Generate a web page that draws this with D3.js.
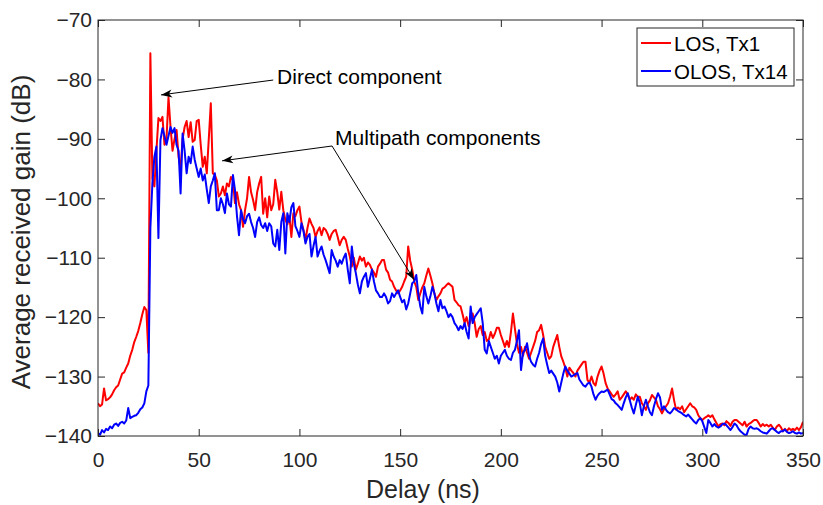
<!DOCTYPE html>
<html><head><meta charset="utf-8">
<script src="https://cdn.jsdelivr.net/npm/d3@7"></script>
<style>
body{margin:0;background:#fff}
svg{display:block}
text{font-family:"Liberation Sans",Arial,Helvetica,sans-serif;fill:#262626}
</style>
</head><body>
<svg id="chart" width="823" height="505"></svg>
<script>
// ---- data ----
const seriesNames = ["LOS, Tx1", "OLOS, Tx14"];
const seriesColors = ["#ff0000", "#0000ff"];
const xTicks = [0, 50, 100, 150, 200, 250, 300, 350];
const yTicks = [-140, -130, -120, -110, -100, -90, -80, -70];
const xLabel = "Delay (ns)";
const yLabel = "Average received gain (dB)";
const delayNs = d3.range(0, 351, 1);

const losGain = [
-134.5,-135.0,-134.7,-132.0,-134.0,-133.8,-133.5,-133.0,-132.3,-131.8,
-131.5,-130.5,-129.5,-129.3,-128.5,-127.8,-126.5,-125.5,-124.2,-123.3,
-122.3,-121.0,-119.5,-118.3,-118.8,-126.0,-75.6,-96.6,-98.0,-92.0,
-86.5,-87.0,-86.3,-91.0,-90.0,-83.0,-88.0,-92.0,-90.0,-88.5,
-93.0,-95.0,-90.0,-88.0,-87.0,-89.7,-87.2,-90.5,-90.2,-87.0,
-86.8,-91.0,-94.7,-93.0,-95.8,-90.0,-84.0,-95.8,-96.0,-97.0,
-99.7,-99.2,-98.0,-99.5,-97.5,-98.0,-96.4,-97.0,-100.8,-99.0,
-101.0,-102.0,-104.8,-102.0,-100.0,-96.4,-99.0,-100.3,-102.0,-99.0,
-97.5,-96.4,-102.6,-100.0,-103.2,-99.7,-102.0,-101.0,-96.9,-99.0,
-101.9,-98.9,-102.0,-103.6,-104.4,-103.0,-106.5,-102.5,-103.0,-102.0,
-101.4,-104.0,-105.3,-107.0,-105.0,-103.4,-104.3,-105.0,-106.5,-105.5,
-104.9,-106.2,-105.0,-105.3,-106.0,-107.0,-106.0,-105.5,-105.3,-106.5,
-107.9,-107.0,-106.5,-107.0,-108.5,-109.8,-111.5,-110.0,-112.0,-111.0,
-109.8,-110.5,-110.0,-111.5,-110.8,-111.2,-112.0,-112.5,-113.2,-111.5,
-111.0,-110.4,-110.4,-112.0,-112.5,-113.7,-114.0,-114.9,-115.5,-116.0,
-115.5,-114.9,-114.0,-113.2,-108.1,-110.5,-112.0,-114.0,-114.9,-117.1,
-116.0,-115.0,-114.3,-113.0,-111.8,-113.0,-114.3,-116.0,-117.1,-116.5,
-116.0,-115.2,-115.0,-114.6,-114.3,-114.6,-114.9,-117.1,-117.5,-118.0,
-118.2,-119.5,-121.0,-120.0,-121.5,-120.5,-119.4,-121.0,-123.3,-122.0,
-121.5,-123.0,-122.5,-124.0,-123.8,-122.5,-123.5,-122.8,-121.8,-121.8,
-123.0,-124.0,-125.0,-124.0,-125.0,-122.5,-119.4,-122.0,-124.5,-126.0,
-125.0,-126.5,-125.0,-126.0,-127.0,-126.0,-125.0,-124.0,-122.5,-122.2,
-121.3,-123.0,-125.0,-126.0,-127.0,-126.6,-125.0,-124.0,-123.0,-125.0,
-126.6,-127.5,-128.5,-130.0,-128.5,-129.0,-129.4,-130.0,-129.0,-128.5,
-128.0,-127.5,-127.5,-130.6,-131.0,-130.0,-131.1,-131.5,-130.0,-129.0,
-128.3,-129.5,-131.1,-132.0,-132.5,-133.0,-133.4,-133.0,-132.5,-133.9,
-133.5,-133.0,-132.5,-133.0,-133.9,-133.5,-133.9,-133.0,-133.4,-133.4,
-134.5,-135.0,-135.6,-134.5,-134.0,-133.1,-133.5,-133.9,-135.0,-135.5,
-136.2,-135.5,-135.0,-134.5,-133.4,-132.0,-134.0,-135.6,-135.2,-135.5,
-135.0,-136.0,-135.5,-135.0,-134.5,-135.0,-135.2,-135.6,-136.5,-137.0,
-137.3,-137.0,-136.8,-136.5,-136.8,-136.5,-137.2,-137.8,-138.4,-138.0,
-137.9,-138.2,-137.5,-137.8,-138.3,-137.6,-137.3,-137.3,-137.6,-137.9,
-138.2,-137.6,-138.4,-138.0,-137.8,-137.5,-137.3,-137.3,-137.8,-138.4,
-138.0,-138.3,-138.1,-138.4,-138.1,-138.6,-139.0,-138.4,-138.1,-138.5,
-139.2,-138.8,-139.2,-138.7,-139.0,-138.8,-139.0,-138.6,-139.0,-138.5,
-137.6
];

const olosGain = [
-139.5,-139.8,-139.0,-139.4,-138.8,-139.0,-138.4,-138.7,-138.1,-137.9,
-138.3,-137.8,-137.6,-137.9,-137.4,-135.3,-137.0,-136.8,-136.6,-136.5,
-136.1,-135.5,-135.2,-134.5,-132.5,-131.5,-105.0,-97.5,-93.0,-91.3,
-106.7,-90.2,-88.2,-89.5,-91.0,-89.5,-88.0,-89.0,-88.2,-91.0,
-92.0,-99.2,-89.1,-92.0,-95.8,-93.0,-94.1,-91.3,-93.5,-95.0,
-96.4,-95.0,-97.0,-96.0,-98.5,-100.8,-98.0,-97.0,-95.8,-102.0,
-102.0,-100.0,-101.0,-102.5,-99.2,-101.0,-101.4,-96.1,-98.6,-103.0,
-106.2,-102.0,-103.5,-104.2,-103.0,-102.6,-104.0,-105.0,-106.5,-104.0,
-103.2,-104.5,-105.0,-104.2,-105.5,-104.2,-104.7,-107.6,-108.1,-105.3,
-108.7,-104.0,-102.5,-109.3,-102.5,-104.0,-101.5,-100.8,-104.7,-105.5,
-106.5,-104.2,-105.5,-107.6,-106.5,-106.0,-109.8,-108.0,-106.5,-109.8,
-108.8,-108.1,-109.5,-110.4,-111.5,-112.6,-108.7,-109.8,-110.5,-111.5,
-110.4,-111.0,-110.0,-109.3,-112.0,-114.3,-108.1,-111.0,-112.6,-114.5,
-116.0,-114.0,-113.2,-112.6,-114.9,-113.5,-112.0,-114.0,-115.5,-116.0,
-116.6,-116.6,-116.0,-116.6,-117.7,-117.3,-116.0,-116.6,-116.0,-115.5,
-116.6,-117.5,-117.1,-118.7,-117.7,-116.0,-114.3,-114.0,-112.9,-116.0,
-118.2,-119.4,-114.9,-116.5,-117.7,-116.5,-114.9,-116.0,-117.7,-119.0,
-117.1,-118.5,-118.2,-119.0,-120.0,-119.5,-120.0,-121.0,-121.5,-122.2,
-121.5,-122.0,-121.0,-122.5,-123.6,-118.2,-121.0,-120.0,-119.5,-119.0,
-118.5,-121.0,-125.5,-126.1,-124.0,-125.0,-126.0,-127.0,-126.5,-127.8,
-126.5,-126.0,-125.5,-126.5,-127.0,-127.2,-126.0,-125.5,-124.0,-122.2,
-128.9,-126.0,-125.5,-124.4,-126.5,-127.5,-128.0,-128.3,-127.0,-126.0,
-124.5,-123.6,-126.5,-128.0,-129.4,-129.0,-129.5,-130.0,-131.0,-132.5,
-131.0,-129.5,-128.3,-129.0,-129.5,-130.0,-129.8,-129.6,-129.4,-130.5,
-131.0,-131.5,-131.7,-131.2,-131.0,-131.7,-133.0,-133.9,-133.2,-132.8,
-132.5,-132.6,-132.4,-132.2,-133.0,-133.8,-134.0,-134.5,-134.8,-135.2,
-135.6,-134.5,-133.5,-132.8,-134.0,-135.2,-136.2,-134.8,-133.4,-134.5,
-136.5,-135.0,-133.9,-135.0,-136.0,-136.5,-135.0,-133.8,-132.8,-133.5,
-135.6,-135.0,-135.6,-136.0,-136.2,-135.8,-135.3,-135.5,-135.8,-136.0,
-136.2,-136.5,-136.7,-136.4,-136.8,-137.2,-137.6,-137.9,-137.3,-137.0,
-137.5,-138.5,-139.5,-137.3,-137.8,-138.4,-138.0,-138.4,-138.6,-138.4,
-138.0,-137.9,-138.2,-138.6,-139.0,-138.5,-137.9,-138.2,-138.8,-139.2,
-139.5,-139.8,-139.8,-138.8,-138.4,-138.7,-138.8,-138.7,-138.9,-139.2,
-139.4,-139.5,-139.6,-139.2,-138.8,-138.7,-139.0,-139.3,-139.5,-139.2,
-139.2,-138.9,-139.3,-139.5,-139.4,-139.2,-139.5,-139.6,-139.4,-139.6,
-139.5
];

// annotation texts (anchor in data units) and arrows (from -> to, data units)
const annotationTexts = ["Direct component", "Multipath components"];
const annotationTextPos = [[88.9, -80.8], [117.7, -91.0]];
const arrowFrom = [[87.0, -80.1], [116.2, -91.2], [116.2, -91.2]];
const arrowTo = [[31.3, -82.6], [61.6, -93.7], [156.9, -113.7]];

// ---- drawing ----
const svg = d3.select("#chart");
const L = 98, R = 803, T = 20, B = 436;
const x = d3.scaleLinear().domain([0, 350]).range([L, R]);
const y = d3.scaleLinear().domain([-140, -70]).range([B, T]);
const axisColor = "#262626";

svg.append("defs").append("clipPath").attr("id", "clip")
  .append("rect").attr("x", L).attr("y", T).attr("width", R - L).attr("height", B - T);

const marker = svg.select("defs").append("marker")
  .attr("id", "arrowhead").attr("markerUnits", "userSpaceOnUse")
  .attr("viewBox", "-12 -6 13 12").attr("markerWidth", 13).attr("markerHeight", 12)
  .attr("refX", 0).attr("refY", 0).attr("orient", "auto");
marker.append("path").attr("d", "M0,0 L-11,-4 L-8,0 L-11,4 Z").attr("fill", "#000");

// series
const line = d3.line().x((d, i) => x(delayNs[i])).y(d => y(d));
const series = [losGain, olosGain];
const plot = svg.append("g").attr("clip-path", "url(#clip)");
series.forEach((s, k) => {
  plot.append("path").datum(s)
    .attr("d", line)
    .attr("fill", "none")
    .attr("stroke", seriesColors[k])
    .attr("stroke-width", 2)
    .attr("stroke-linejoin", "round");
});

// axes
function styleAxis(g) {
  g.select(".domain").remove();
  g.selectAll(".tick line").attr("stroke", axisColor);
  g.selectAll(".tick text").attr("fill", axisColor).style("font-size", "21px")
   .style("font-family", '"Liberation Sans",Arial,Helvetica,sans-serif');
}
svg.append("g").attr("transform", `translate(0,${B})`)
  .call(d3.axisBottom(x).tickValues(xTicks).tickSizeInner(-7).tickSizeOuter(0).tickPadding(16))
  .call(styleAxis);
svg.append("g").attr("transform", `translate(0,${T})`)
  .call(d3.axisTop(x).tickValues(xTicks).tickSizeInner(-7).tickSizeOuter(0).tickFormat(""))
  .call(styleAxis);
svg.append("g").attr("transform", `translate(${L},0)`)
  .call(d3.axisLeft(y).tickValues(yTicks).tickSizeInner(-7).tickSizeOuter(0).tickPadding(6))
  .call(styleAxis);
svg.append("g").attr("transform", `translate(${R},0)`)
  .call(d3.axisRight(y).tickValues(yTicks).tickSizeInner(-7).tickSizeOuter(0).tickFormat(""))
  .call(styleAxis);

svg.append("rect").attr("x", L).attr("y", T).attr("width", R - L).attr("height", B - T)
  .attr("fill", "none").attr("stroke", axisColor).attr("stroke-width", 1);

// axis labels
svg.append("text").attr("x", 423).attr("y", 498).attr("text-anchor", "middle")
  .style("font-size", "25px").text(xLabel);
svg.append("text").attr("transform", "translate(30,232) rotate(-90)")
  .attr("text-anchor", "middle").style("font-size", "26px").text(yLabel);

// annotations
arrowFrom.forEach((f, i) => {
  svg.append("line")
    .attr("x1", x(f[0])).attr("y1", y(f[1]))
    .attr("x2", x(arrowTo[i][0])).attr("y2", y(arrowTo[i][1]))
    .attr("stroke", "#000").attr("stroke-width", 1)
    .attr("marker-end", "url(#arrowhead)");
});
annotationTexts.forEach((t, i) => {
  svg.append("text").attr("x", x(annotationTextPos[i][0])).attr("y", y(annotationTextPos[i][1]))
    .style("font-size", "21px").style("fill", "#000").text(t);
});

// legend
const lg = svg.append("g");
lg.append("rect").attr("x", 637).attr("y", 28).attr("width", 157).attr("height", 58)
  .attr("fill", "#fff").attr("stroke", axisColor).attr("stroke-width", 1);
seriesNames.forEach((n, k) => {
  const yy = 43 + k * 28;
  lg.append("line").attr("x1", 641).attr("x2", 671).attr("y1", yy).attr("y2", yy)
    .attr("stroke", seriesColors[k]).attr("stroke-width", 2);
  lg.append("text").attr("x", 674).attr("y", yy + 7.5)
    .style("font-size", "20.5px").style("fill", "#000").text(n);
});
</script>
</body></html>
